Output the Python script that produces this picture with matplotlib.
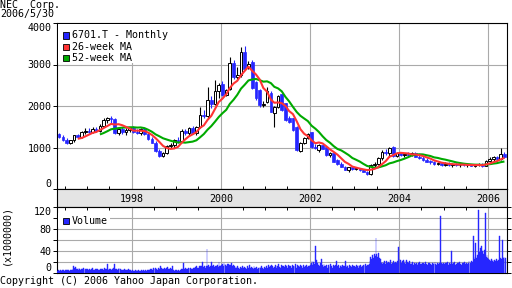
import matplotlib
matplotlib.use('Agg')
import matplotlib.pyplot as plt
import matplotlib.dates as mdates
import matplotlib.transforms as mtransforms
from matplotlib.patches import Rectangle
import numpy as np
import pandas as pd

# ---------------- data ----------------
months = pd.period_range('1996-05', '2006-05', freq='M')

open_px = [1320, 1260, 1170, 1120, 1170, 1290, 1250, 1370, 1400, 1380,
           1440, 1400, 1530, 1660, 1700, 1680, 1350, 1450, 1380, 1420,
           1460, 1380, 1350, 1440, 1330, 1200, 1120, 920, 800, 860,
           1030, 1070, 1180, 1150, 1400, 1340, 1480, 1350, 1500, 1780,
           1750, 2140, 2050, 2360, 2530, 2270, 2420, 3040, 2700, 2750,
           3300, 2950, 3060, 2580, 2380, 2020, 2100, 2310, 1830, 1980,
           2290, 2070, 1700, 1710, 1500, 920, 1110, 1230, 1370, 1010,
           940, 1060, 1010, 820, 870, 700, 600, 540, 460, 520,
           480, 500, 460, 420, 360, 570, 600, 740, 900, 870,
           1010, 790, 860, 820, 850, 830, 860, 780, 750, 700,
           660, 650, 600, 620, 580, 610, 580, 600, 570, 590,
           570, 580, 560, 580, 590, 560, 680, 720, 760, 720,
           850]
high_px = [1360, 1300, 1230, 1190, 1310, 1330, 1390, 1470, 1480, 1490,
           1500, 1560, 1700, 1740, 1760, 1720, 1480, 1500, 1460, 1500,
           1520, 1450, 1470, 1470, 1380, 1250, 1150, 960, 900, 1060,
           1100, 1200, 1250, 1440, 1450, 1500, 1520, 1520, 1980, 1900,
           2460, 2250, 2630, 2560, 2600, 2420, 3180, 3100, 2950, 3420,
           3450, 3080, 3100, 2600, 2400, 2120, 2450, 2350, 2000, 2260,
           2300, 2080, 1750, 1720, 1520, 1130, 1250, 1340, 1380, 1080,
           1080, 1080, 1020, 900, 880, 720, 640, 560, 540, 540,
           520, 510, 480, 440, 600, 640, 760, 950, 960, 1010,
           1030, 880, 890, 870, 880, 880, 900, 820, 790, 740,
           700, 680, 650, 660, 640, 650, 620, 630, 610, 620,
           600, 610, 600, 620, 620, 700, 760, 800, 800, 990,
           900]
low_px = [1240, 1150, 1080, 1090, 1140, 1220, 1230, 1320, 1340, 1350,
          1370, 1380, 1500, 1590, 1600, 1320, 1300, 1330, 1300, 1380,
          1350, 1320, 1310, 1300, 1180, 1100, 900, 760, 770, 840,
          980, 1000, 1100, 1130, 1300, 1300, 1320, 1300, 1480, 1700,
          1720, 1950, 2030, 2200, 2250, 2250, 2380, 2650, 2650, 2700,
          2880, 2900, 2400, 2150, 1980, 1980, 2080, 1850, 1500, 1950,
          1880, 1640, 1580, 1400, 920, 900, 1080, 1200, 990, 960,
          900, 960, 800, 760, 640, 590, 520, 450, 410, 460,
          450, 440, 400, 330, 340, 540, 580, 700, 830, 780,
          760, 780, 800, 780, 800, 790, 760, 720, 680, 640,
          600, 580, 570, 560, 550, 560, 540, 550, 540, 550,
          540, 550, 540, 550, 540, 550, 640, 680, 700, 700,
          750]
close_px = [1260, 1170, 1120, 1170, 1290, 1250, 1370, 1400, 1380, 1440,
            1400, 1530, 1660, 1700, 1680, 1350, 1450, 1380, 1420, 1460,
            1380, 1350, 1440, 1330, 1200, 1120, 920, 800, 860, 1030,
            1070, 1180, 1150, 1400, 1340, 1480, 1350, 1500, 1780, 1750,
            2140, 2050, 2360, 2500, 2270, 2380, 3040, 2700, 2750, 3300,
            2900, 3000, 2430, 2190, 2020, 2060, 2360, 1860, 1980, 2240,
            1900, 1660, 1620, 1420, 940, 1110, 1230, 1320, 1010, 1000,
            1060, 970, 820, 860, 650, 600, 530, 460, 520, 480,
            500, 460, 420, 360, 570, 600, 740, 900, 870, 990,
            790, 860, 820, 850, 830, 860, 780, 750, 700, 660,
            650, 600, 620, 580, 610, 580, 600, 570, 590, 570,
            580, 560, 580, 590, 560, 680, 720, 760, 720, 850,
            780]

vol_1996 = [4, 5, 4, 6, 5, 4, 5, 6, 4, 5, 5, 4, 6, 5, 4, 5, 6, 5, 7, 12,
            9, 11, 8, 7, 6, 9, 8, 6, 7, 8, 10, 7, 6, 8, 7]
vol_1997 = [7, 6, 8, 5, 6, 7, 9, 6, 5, 7, 6, 8, 7, 6, 5, 7, 8, 6, 7, 6,
            9, 7, 8, 16, 7, 6, 8, 7, 6, 7, 9, 8, 16, 7, 8, 6, 7, 9, 8, 7,
            6, 5, 6, 7, 5, 6, 5, 6, 7, 5, 6, 4]
vol_1998 = [4, 5, 4, 3, 5, 4, 6, 4, 5, 4, 3, 5, 4, 6, 5, 4, 5, 4, 6, 5,
            4, 5, 7, 8, 6, 9, 8, 7, 10, 8, 6, 9, 7, 8, 12, 9, 7, 8, 10, 8,
            6, 9, 11, 8, 7, 9, 8, 7, 12, 5, 4, 5]
vol_1999 = [5, 4, 6, 5, 4, 6, 7, 8, 18, 7, 8, 9, 8, 7, 9, 10, 8, 9, 7, 8,
            9, 10, 8, 11, 12, 10, 9, 12, 13, 11, 12, 20, 11, 12, 10, 13, 43, 12, 14, 11,
            13, 20, 12, 10, 14, 11, 13, 12, 15, 11, 20, 12, 13]
vol_2000 = [14, 16, 13, 18, 17, 15, 12, 16, 17, 14, 13, 15, 18, 12, 14, 13, 10, 11, 9, 12,
            10, 8, 11, 9, 10, 12, 9, 11, 10, 8, 12, 9, 10, 15, 9, 11, 10, 8, 12, 9,
            10, 11, 8, 10, 9, 11, 10, 12, 9, 8, 11, 10]
vol_2001 = [10, 12, 9, 14, 11, 13, 10, 15, 12, 9, 11, 14, 10, 13, 12, 16, 11, 10, 14, 12,
            9, 13, 11, 15, 12, 10, 14, 11, 13, 12, 10, 15, 13, 11, 12, 16, 10, 14, 12, 11,
            13, 15, 12, 10, 14, 11, 13, 12, 15, 11, 13, 12]
vol_2002 = [14, 18, 22, 15, 20, 17, 50, 24, 19, 13, 15, 12, 18, 25, 14, 11, 16, 13, 12, 15,
            10, 14, 11, 13, 16, 12, 10, 14, 13, 11, 15, 22, 12, 14, 10, 13, 15, 11, 14, 12,
            13, 22, 11, 14, 12, 10, 15, 13, 11, 14, 12, 13]
vol_2003 = [12, 11, 14, 13, 10, 15, 12, 14, 11, 13, 15, 12, 14, 16, 13, 15, 14, 17, 22, 30,
            26, 33, 28, 35, 31, 63, 34, 30, 37, 28, 25, 18, 20, 16, 19, 22, 17, 21, 18, 16,
            20, 19, 23, 17, 18, 21, 16, 19, 20, 18, 22, 47]
vol_2004 = [25, 20, 23, 18, 22, 24, 19, 21, 17, 23, 20, 18, 22, 16, 19, 17, 20, 15, 18, 16,
            19, 17, 15, 18, 20, 16, 17, 19, 15, 18, 16, 20, 17, 15, 19, 16, 18, 17, 15, 19,
            16, 18, 20, 17, 15, 18, 16, 19, 17, 103, 18, 16, 19]
vol_2005 = [17, 19, 16, 18, 20, 15, 18, 17, 40, 19, 16, 18, 20, 15, 17, 19, 16, 18, 20, 17,
            15, 19, 18, 16, 20, 17, 18, 16, 19, 21, 17, 18, 22, 20, 67, 25, 30, 55, 28, 32,
            114, 38, 45, 36, 50, 40, 35, 42, 109, 30, 33, 27]
vol_2006 = [26, 24, 22, 25, 21, 23, 20, 24, 22, 25, 21, 23, 24, 67, 28, 26, 60, 27, 30, 25,
            28]

year_ticks = [1998, 2000, 2002, 2004, 2006]
price_ticks = [0, 1000, 2000, 3000, 4000]
vol_ticks = [0, 40, 80, 120]

title = 'NEC  Corp.'
date_label = '2006/5/30'
legend_labels = ['6701.T - Monthly', '26-week MA', '52-week MA']

# ---------------- style ----------------
W, H = 512, 288
BLUE = '#2626ff'
RED = '#ff3333'
GREEN = '#00aa00'
GRID = '#aaaaaa'
BAND = '#e4e4e4'
FONT = 'DejaVu Sans Mono'
FS = 7.2
plt.rcParams['font.family'] = FONT
plt.rcParams['font.size'] = FS

def fx(x):
    return x / W

def fy(y):
    return 1 - y / H

L, R = 57, 507
fig = plt.figure(figsize=(W / 100, H / 100), dpi=100)
ax = fig.add_axes([fx(L), fy(189), (R - L) / W, (189 - 23) / H])
band = fig.add_axes([fx(L), fy(207), (R - L) / W, (207 - 189) / H])
axv = fig.add_axes([fx(L), fy(273), (R - L) / W, (273 - 207) / H])

xlim = (mdates.date2num(pd.Timestamp('1996-04-28').to_pydatetime()),
        mdates.date2num(pd.Timestamp('2006-06-05').to_pydatetime()))
yr_x = [mdates.date2num(pd.Timestamp(f'{y}-01-01').to_pydatetime()) for y in year_ticks]
half_years = pd.date_range('1996-07-01', '2006-06-01', freq='6MS')
hy_x = mdates.date2num(half_years.to_pydatetime())

# ---------------- candles ----------------
mid = months.to_timestamp() + pd.Timedelta(days=14)
xm = mdates.date2num(mid.to_pydatetime())
o = np.array(open_px, float)
h = np.array(high_px, float)
l = np.array(low_px, float)
c = np.array(close_px, float)
up = c >= o
bb = np.minimum(o, c)
bh = np.maximum(np.abs(c - o), 20)

ax.vlines(xm[up], l[up], h[up], color='black', lw=0.8, zorder=2)
ax.vlines(xm[~up], l[~up], h[~up], color=BLUE, lw=0.8, zorder=2)
ax.bar(xm[up], bh[up], bottom=bb[up], width=22, facecolor='white',
       edgecolor='black', linewidth=0.7, zorder=3)
ax.bar(xm[~up], bh[~up], bottom=bb[~up], width=22, facecolor=BLUE,
       edgecolor=BLUE, linewidth=0.5, zorder=3)

cs = pd.Series(close_px, dtype=float)
ma26 = cs.rolling(6).mean()
ma52 = cs.rolling(12).mean()
ax.plot(xm, ma52, color=GREEN, lw=1.5, zorder=4, solid_capstyle='butt')
ax.plot(xm, ma26, color=RED, lw=1.5, zorder=5, solid_capstyle='butt')

ax.set_xlim(xlim)
ax.set_ylim(0, 4000)
ax.set_yticks(price_ticks)
ax.set_yticklabels([str(t) for t in price_ticks])
ax.set_xticks(yr_x)
ax.set_xticks(hy_x, minor=True)
ax.tick_params(axis='x', which='major', length=0, labelbottom=False)
ax.tick_params(axis='x', which='minor', length=2, direction='in', width=0.7)
ax.tick_params(axis='y', length=3, width=0.7, pad=1)
ax.grid(True, which='major', color=GRID, lw=0.8, zorder=0)
for lab in ax.get_yticklabels():
    if lab.get_text() == '0':
        lab.set_va('bottom')
    elif lab.get_text() == '4000':
        lab.set_va('top')

# ---------------- band ----------------
band.set_facecolor(BAND)
band.set_xlim(xlim)
band.set_ylim(0, 1)
band.set_xticks([])
band.set_yticks([])
btr = mtransforms.blended_transform_factory(band.transData, band.transAxes)
for yx, y in zip(yr_x, year_ticks):
    band.text(yx, 0.45, str(y), transform=btr, ha='center', va='center', fontsize=FS)

# ---------------- volume ----------------
weeks = pd.date_range('1996-05-03', '2006-05-26', freq='W-FRI')
vol = (vol_1996 + vol_1997 + vol_1998 + vol_1999 + vol_2000 + vol_2001 +
       vol_2002 + vol_2003 + vol_2004 + vol_2005 + vol_2006)
n = min(len(weeks), len(vol))
xw = mdates.date2num(weeks[:n].to_pydatetime())
axv.bar(xw, vol[:n], width=7, color=BLUE, edgecolor=BLUE, linewidth=0.3, zorder=3)
axv.set_xlim(xlim)
axv.set_ylim(0, 120)
axv.set_yticks(vol_ticks)
axv.set_yticks([20, 60, 100], minor=True)
axv.set_yticklabels([str(t) for t in vol_ticks])
axv.set_xticks(yr_x)
axv.set_xticks(hy_x, minor=True)
axv.tick_params(axis='x', which='major', length=0, labelbottom=False)
axv.tick_params(axis='x', which='minor', length=2, direction='in', width=0.7,
                bottom=False, top=True)
axv.tick_params(axis='y', which='both', length=3, width=0.7, pad=1, right=True)
axv.grid(True, which='both', color=GRID, lw=0.8, zorder=0)
axv.grid(False, axis='x', which='minor')
for lab in axv.get_yticklabels():
    if lab.get_text() == '0':
        lab.set_va('bottom')
    elif lab.get_text() == '120':
        lab.set_va('top')

for a in (ax, band, axv):
    for s in a.spines.values():
        s.set_linewidth(0.8)
        s.set_color('black')

# ---------------- legends ----------------
fig.add_artist(Rectangle((fx(58), fy(63)), fx(112), (63 - 24) / H,
                         transform=fig.transFigure, facecolor='white',
                         edgecolor='none', zorder=5))
for k, (lab, col) in enumerate(zip(legend_labels, [BLUE, RED, GREEN])):
    yc = 35.5 + k * 11.3
    fig.add_artist(Rectangle((fx(63), fy(yc + 3)), 6 / W, 6 / H,
                             transform=fig.transFigure, facecolor=col,
                             edgecolor='black', linewidth=0.6, zorder=6))
    fig.text(fx(71.5), fy(yc), lab, ha='left', va='center', zorder=7, fontsize=FS)

fig.add_artist(Rectangle((fx(58), fy(227)), fx(52), 14 / H,
                         transform=fig.transFigure, facecolor='white',
                         edgecolor='none', zorder=5))
fig.add_artist(Rectangle((fx(63), fy(224)), 6 / W, 6 / H,
                         transform=fig.transFigure, facecolor=BLUE,
                         edgecolor='black', linewidth=0.6, zorder=6))
fig.text(fx(71.5), fy(221), 'Volume', ha='left', va='center', zorder=7, fontsize=FS)

# ---------------- texts ----------------
fig.text(fx(0), fy(0), title, ha='left', va='top', fontsize=FS)
fig.text(fx(0), fy(9), date_label, ha='left', va='top', fontsize=FS)
fig.text(fx(6), fy(235), '(x1000000)', rotation=90, ha='center', va='center', fontsize=FS)
fig.text(fx(0), fy(284), 'Copyright (C) 2006 Yahoo Japan Corporation.',
         ha='left', va='baseline', fontsize=FS)

fig.savefig('out.png', dpi=100, facecolor='white')
